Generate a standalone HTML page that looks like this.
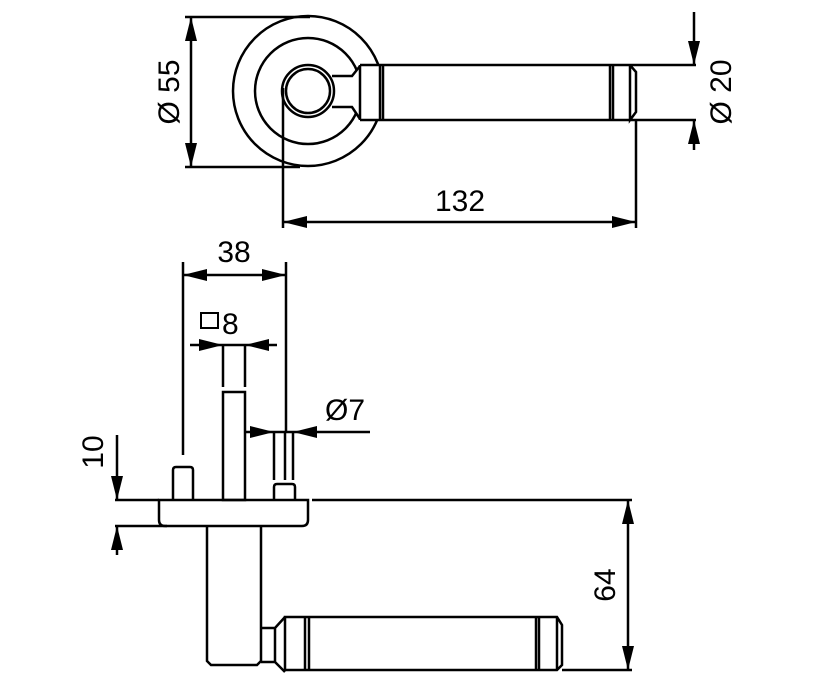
<!DOCTYPE html>
<html><head><meta charset="utf-8"><style>
html,body{margin:0;padding:0;background:#fff}
svg{display:block}
text{font-family:"Liberation Sans",Arial,sans-serif;fill:#000}
</style></head><body>
<svg width="816" height="681" viewBox="0 0 816 681" xmlns="http://www.w3.org/2000/svg">
<defs>
<marker id="a" viewBox="0 0 24 12" refX="24" refY="6" markerWidth="24" markerHeight="12" markerUnits="userSpaceOnUse" orient="auto-start-reverse">
<path d="M0,0 L24,6 L0,12 z" fill="#000"/></marker>
</defs>
<g fill="none" stroke="#000" stroke-width="2.5">
<!-- TOP VIEW -->
<circle cx="308" cy="91" r="75"/>
<circle cx="308" cy="91" r="53"/>
<path d="M330,76 H352 L360,66 V119 L352,107 H330 Z" fill="#fff" stroke="none"/>
<circle cx="308" cy="91" r="26" fill="#fff"/>
<circle cx="308" cy="91" r="22"/>
<path d="M332,76 H352 L360,66 M332,107 H352 L360,119"/>
<rect x="360" y="65" width="276" height="55" fill="#fff" stroke="none"/>
<path d="M360,65 H636 M360,120 H636 M360,65 V120 M380,65 V120 M383,65 V120 M610,65 V120 M613,65 V120 M630,65 L636,72 V112 L630,120 V65"/>
<!-- Ø55 -->
<path d="M185,17 H310 M185,167 H300"/>
<line x1="191" y1="17" x2="191" y2="167" marker-start="url(#a)" marker-end="url(#a)"/>
<!-- Ø20 -->
<path d="M636,65 H696 M636,120 H696"/>
<line x1="694" y1="12" x2="694" y2="65" marker-end="url(#a)"/>
<line x1="694" y1="150" x2="694" y2="120" marker-end="url(#a)"/>
<!-- 132 -->
<path d="M283,88 V228 M636,120 V228"/>
<line x1="283" y1="222" x2="636" y2="222" marker-start="url(#a)" marker-end="url(#a)"/>
<!-- BOTTOM VIEW -->
<path d="M183,262 V455 M286,262 V432"/>
<line x1="183" y1="275" x2="286" y2="275" marker-start="url(#a)" marker-end="url(#a)"/>
<line x1="190" y1="345" x2="223" y2="345" marker-end="url(#a)"/>
<line x1="277" y1="345" x2="245" y2="345" marker-end="url(#a)"/>
<line x1="223" y1="345" x2="245" y2="345"/>
<path d="M223,345 V387 M245,345 V387"/>
<rect x="223" y="392" width="22" height="108"/>
<path d="M173,500 V470 Q173,467 176,467 H190 Q193,467 193,470 V500"/>
<path d="M274,500 V487 Q274,484 277,484 H292 Q295,484 295,487 V500"/>
<path d="M274,432 V480 M285,432 V480 M293,432 V480"/>
<line x1="245" y1="432" x2="274" y2="432" marker-end="url(#a)"/>
<line x1="370" y1="432" x2="293" y2="432" marker-end="url(#a)"/>
<line x1="274" y1="432" x2="293" y2="432"/>
<path d="M159,500 H308 V520 Q308,526 302,526 H165 Q159,526 159,520 Z"/>
<path d="M115,500 H159 M312,500 H632 M115,526 H167"/>
<line x1="117" y1="435" x2="117" y2="500" marker-end="url(#a)"/>
<line x1="117" y1="555" x2="117" y2="526" marker-end="url(#a)"/>
<path d="M207,526 V661 L211,665 H257 L261,661 V526"/>
<path d="M261,628 H275 L285,617 M261,662 H275 L285,672 M275,628 V662"/>
<path d="M285,617 H557 L562,625 V665 L557,670 H285 Z M305,617 V670 M309,617 V670 M536,617 V670 M539,617 V670 M557,617 V670"/>
<path d="M562,670 H632"/>
<line x1="628" y1="500" x2="628" y2="670" marker-start="url(#a)" marker-end="url(#a)"/>
</g>
<g font-size="30">
<text x="460" y="211" text-anchor="middle">132</text>
<text x="234" y="262" text-anchor="middle">38</text>
<text x="222" y="334">8</text>
<text x="345" y="420" text-anchor="middle">Ø7</text>
<text transform="translate(179,92) rotate(-90)" text-anchor="middle">Ø 55</text>
<text transform="translate(731,92) rotate(-90)" text-anchor="middle">Ø 20</text>
<text transform="translate(103,452) rotate(-90)" text-anchor="middle">10</text>
<text transform="translate(615,585) rotate(-90)" text-anchor="middle">64</text>
</g>
<rect x="201" y="313" width="17" height="15" fill="none" stroke="#000" stroke-width="2"/>
</svg>
</body></html>
